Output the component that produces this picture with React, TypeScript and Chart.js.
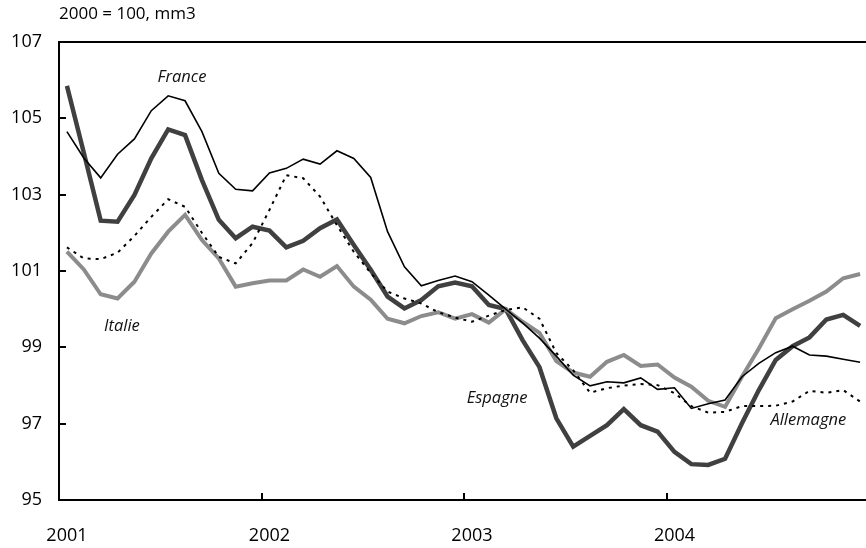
import React, { useEffect, useRef } from "react";
import { Chart, registerables } from "chart.js";

Chart.register(...registerables);

const yearLabels = ["2001", "2002", "2003", "2004"];
const yTicks = [95, 97, 99, 101, 103, 105, 107];
const unitNote = "2000 = 100, mm3";

const france = [104.65, 103.96, 103.44, 104.06, 104.46, 105.2, 105.59, 105.46, 104.65, 103.56, 103.14, 103.1, 103.57, 103.69, 103.93, 103.8, 104.15, 103.95, 103.45, 102.03, 101.11, 100.61, 100.75, 100.87, 100.72, 100.37, 100.0, 99.64, 99.24, 98.77, 98.27, 97.99, 98.1, 98.07, 98.2, 97.9, 97.94, 97.4, 97.52, 97.62, 98.23, 98.58, 98.86, 99.03, 98.8, 98.77, 98.69, 98.61];
const espagne = [105.85, 104.1, 102.32, 102.29, 102.99, 103.95, 104.71, 104.56, 103.38, 102.34, 101.86, 102.16, 102.06, 101.62, 101.79, 102.12, 102.35, 101.68, 101.03, 100.33, 100.02, 100.24, 100.6, 100.7, 100.6, 100.11, 100.0, 99.19, 98.48, 97.14, 96.4, 96.68, 96.96, 97.38, 96.96, 96.79, 96.26, 95.94, 95.92, 96.08, 97.01, 97.88, 98.67, 99.03, 99.26, 99.73, 99.85, 99.56];
const italie = [101.51, 101.04, 100.39, 100.28, 100.72, 101.46, 102.03, 102.47, 101.81, 101.33, 100.59, 100.68, 100.75, 100.75, 101.04, 100.85, 101.13, 100.59, 100.25, 99.75, 99.63, 99.82, 99.92, 99.75, 99.87, 99.65, 100.0, 99.67, 99.38, 98.64, 98.34, 98.23, 98.62, 98.8, 98.51, 98.55, 98.21, 97.97, 97.6, 97.44, 98.23, 98.97, 99.76, 100.0, 100.22, 100.46, 100.81, 100.92];
const allemagne = [101.62, 101.33, 101.31, 101.48, 101.92, 102.42, 102.88, 102.68, 102.0, 101.37, 101.2, 101.73, 102.6, 103.51, 103.43, 102.95, 102.2, 101.5, 100.95, 100.46, 100.28, 100.15, 99.92, 99.78, 99.67, 99.83, 99.98, 100.05, 99.75, 98.85, 98.4, 97.81, 97.93, 98.0, 98.04, 98.01, 97.8, 97.46, 97.29, 97.31, 97.46, 97.46, 97.47, 97.58, 97.86, 97.81, 97.88, 97.58];

// series labels: [text, month position, value position]
const seriesLabels: [string, number, number][] = [
  ["France", 7.29, 106.08],
  ["Italie", 3.73, 99.56],
  ["Espagne", 25.96, 97.67],
  ["Allemagne", 44.4, 97.1],
];

const FONT = "'Open Sans', sans-serif";
const MONTH_OFFSET = 0.47;

const toPoints = (arr: number[]) => arr.map((v, i) => ({ x: i + MONTH_OFFSET, y: v }));

const decorPlugin = {
  id: "decor",
  afterDraw(chart: any) {
    const { ctx, chartArea, scales } = chart;
    const xs = scales.x;
    const ys = scales.y;
    ctx.save();
    ctx.strokeStyle = "#000";
    ctx.lineWidth = 2;
    ctx.beginPath();
    ctx.moveTo(chartArea.left - 1, chartArea.top);
    ctx.lineTo(chartArea.right, chartArea.top);
    for (const v of yTicks) {
      if (v === 95 || v === 107) continue;
      const y = Math.round(ys.getPixelForValue(v));
      ctx.moveTo(chartArea.left, y);
      ctx.lineTo(chartArea.left + 7, y);
    }
    for (let k = 1; k < yearLabels.length; k++) {
      const x = Math.round(xs.getPixelForValue(k * 12));
      ctx.moveTo(x, chartArea.bottom);
      ctx.lineTo(x, chartArea.bottom - 7);
    }
    ctx.stroke();

    ctx.fillStyle = "#111";
    ctx.font = "italic 16.5px " + FONT;
    ctx.textAlign = "center";
    ctx.textBaseline = "middle";
    for (const [t, mx, vy] of seriesLabels) {
      ctx.fillText(t, xs.getPixelForValue(mx), ys.getPixelForValue(vy));
    }
    ctx.font = "17px " + FONT;
    ctx.textAlign = "left";
    ctx.fillStyle = "#000";
    ctx.fillText(unitNote, 59, 14);
    ctx.restore();
  },
};

export default function App() {
  const ref = useRef<HTMLCanvasElement>(null);
  useEffect(() => {
    if (!ref.current) return;
    const chart = new Chart(ref.current, {
      type: "line",
      data: {
        datasets: [
          { label: "Allemagne", data: toPoints(allemagne), borderColor: "#000", borderWidth: 2, borderDash: [3, 5], pointRadius: 0, fill: false, tension: 0 },
          { label: "France", data: toPoints(france), borderColor: "#000", borderWidth: 1.6, pointRadius: 0, fill: false, tension: 0 },
          { label: "Italie", data: toPoints(italie), borderColor: "#8c8c8c", borderWidth: 4, pointRadius: 0, fill: false, tension: 0 },
          { label: "Espagne", data: toPoints(espagne), borderColor: "#404040", borderWidth: 4.5, pointRadius: 0, fill: false, tension: 0 },
        ],
      },
      options: {
        animation: false,
        responsive: false,
        maintainAspectRatio: false,
        layout: { padding: { top: 42, right: 0, left: 0, bottom: 0 } },
        plugins: { legend: { display: false }, tooltip: { enabled: false } },
        scales: {
          x: {
            type: "linear",
            min: 0,
            max: 47.82,
            grid: { display: false, drawTicks: false },
            border: { display: true, color: "#000", width: 2 },
            afterBuildTicks: (s: any) => {
              s.ticks = yearLabels.map((_, k) => ({ value: k * 12 + MONTH_OFFSET }));
            },
            afterFit: (s: any) => {
              s.height = 48;
            },
            ticks: {
              autoSkip: false,
              maxRotation: 0,
              padding: 25,
              color: "#000",
              font: { family: FONT, size: 18 },
              callback: (v: any) => yearLabels[Math.round((Number(v) - MONTH_OFFSET) / 12)] ?? "",
            },
          },
          y: {
            type: "linear",
            min: 95,
            max: 107,
            grid: { display: false, drawTicks: false },
            border: { display: true, color: "#000", width: 2 },
            afterBuildTicks: (s: any) => {
              s.ticks = yTicks.map((v) => ({ value: v }));
            },
            afterFit: (s: any) => {
              s.width = 59;
            },
            ticks: {
              padding: 17,
              color: "#000",
              font: { family: FONT, size: 18 },
              callback: (v: any) => String(v),
            },
          },
        },
      },
      plugins: [decorPlugin],
    });
    return () => chart.destroy();
  }, []);
  return (
    <div style={{ position: "absolute", left: 0, top: 0, width: 866, height: 548, background: "#fff" }}>
      <canvas ref={ref} width={866} height={548} />
    </div>
  );
}
